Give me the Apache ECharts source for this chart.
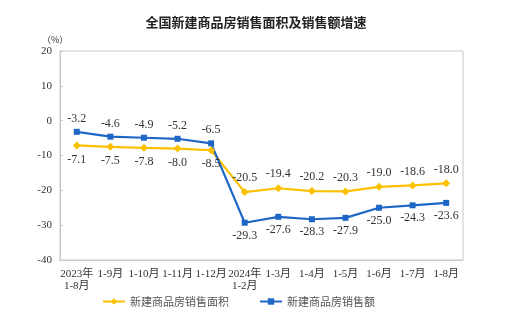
<!DOCTYPE html>
<html><head><meta charset="utf-8">
<script src="https://cdn.jsdelivr.net/npm/echarts@6/dist/echarts.min.js"></script>
<style>html,body{margin:0;padding:0;background:#fff}#c{width:526px;height:325px}</style>
</head><body><div id="c"></div>
<script>
const categories = ['2023年\n1-8月','1-9月','1-10月','1-11月','1-12月','2024年\n1-2月','1-3月','1-4月','1-5月','1-6月','1-7月','1-8月'];
const areaGrowth = [-7.1,-7.5,-7.8,-8.0,-8.5,-20.5,-19.4,-20.2,-20.3,-19.0,-18.6,-18.0];
const salesGrowth = [-3.2,-4.6,-4.9,-5.2,-6.5,-29.3,-27.6,-28.3,-27.9,-25.0,-24.3,-23.6];
const yTicks = [20,10,0,-10,-20,-30,-40];

const serif = '"Liberation Serif","Noto Sans CJK SC",serif';
const yellow = '#FBC000', blue = '#1F67C6';

// first five points: area labels below, sales labels above; afterwards swapped
function labelPos(i, firstBelow){ return (i < 5) === firstBelow ? 'bottom' : 'top'; }

const chart = echarts.init(document.getElementById('c'));
chart.setOption({
  animation:false,
  title:{text:'全国新建商品房销售面积及销售额增速',left:251,textAlign:'center',top:11,
    textStyle:{fontFamily:'"Noto Sans CJK SC",sans-serif',fontSize:13,fontWeight:'bold',color:'#222'}},
  grid:{left:60,right:63,top:51,bottom:65,show:true,borderColor:'#c8c8c8',borderWidth:1},
  legend:{bottom:13,left:97,itemGap:30,itemWidth:22,itemHeight:8,
    textStyle:{fontFamily:'"Noto Sans CJK SC",serif',fontSize:11,color:'#555'},
    data:['新建商品房销售面积','新建商品房销售额']},
  xAxis:{type:'category',data:categories,boundaryGap:true,
    axisLine:{onZero:false,lineStyle:{color:'#c8c8c8'}},
    axisTick:{inside:true,length:4,lineStyle:{color:'#c8c8c8'}},
    axisLabel:{fontFamily:serif,fontSize:11,color:'#333',interval:0,margin:8,lineHeight:12}},
  yAxis:{type:'value',min:-40,max:20,interval:10,name:'（%）',
    nameLocation:'end',nameGap:7,nameTextStyle:{fontFamily:'"Noto Sans CJK SC",serif',fontSize:9,color:'#333',align:'left',padding:[0,0,0,-18]},
    splitLine:{show:false},
    axisLine:{show:true,lineStyle:{color:'#c8c8c8'}},
    axisTick:{show:true,inside:true,length:3,lineStyle:{color:'#c8c8c8'}},
    axisLabel:{fontFamily:serif,fontSize:11,color:'#333',margin:8,
      formatter:v=> yTicks.includes(v)? String(v):''}},
  series:[
    {name:'新建商品房销售面积',type:'line',data:areaGrowth.map((v,i)=>({value:v,label:{position:labelPos(i,true)}})),
      symbol:'diamond',symbolSize:8,itemStyle:{color:yellow},lineStyle:{color:yellow,width:2.2},
      label:{show:true,fontFamily:serif,fontSize:12,color:'#333',distance:4,formatter:p=>p.value.toFixed(1)}},
    {name:'新建商品房销售额',type:'line',data:salesGrowth.map((v,i)=>({value:v,label:{position:labelPos(i,false)}})),
      symbol:'rect',symbolSize:6,itemStyle:{color:blue},lineStyle:{color:blue,width:2.2},
      label:{show:true,fontFamily:serif,fontSize:12,color:'#333',distance:4,formatter:p=>p.value.toFixed(1)}}
  ]
});
</script></body></html>
